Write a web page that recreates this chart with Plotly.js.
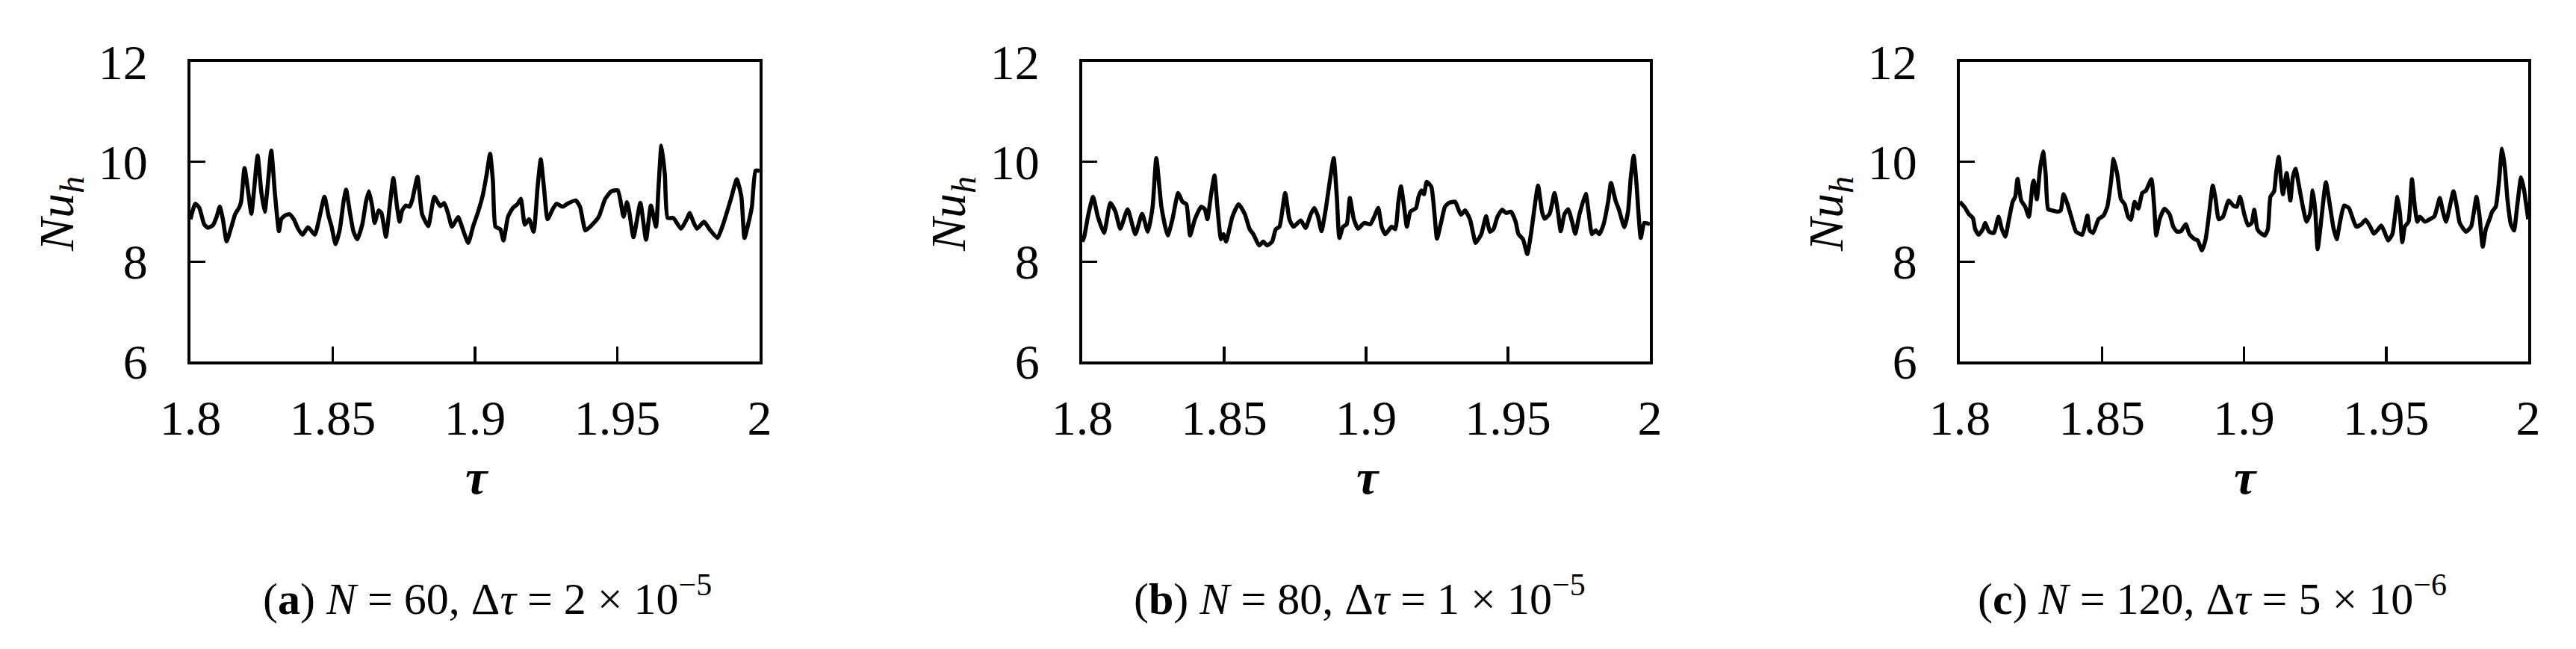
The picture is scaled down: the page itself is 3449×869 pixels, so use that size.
<!DOCTYPE html>
<html><head><meta charset="utf-8">
<script src="https://cdn.plot.ly/plotly-3.0.1.min.js"></script>
<style>html,body{margin:0;padding:0;background:#fff}#chart{width:3449px;height:869px}</style>
</head><body><div id="chart"></div>
<script>
// ---------- data ----------
const tauA=[1.8000,1.8017,1.8031,1.8048,1.8061,1.8079,1.8092,1.8103,1.8114,1.8127,1.8144,1.8157,1.8171,1.8178,1.8190,1.8204,1.8214,1.8223,1.8236,1.8249,1.8261,1.8271,1.8284,1.8297,1.8311,1.8319,1.8332,1.8348,1.8363,1.8379,1.8394,1.8413,1.8437,1.8452,1.8471,1.8486,1.8496,1.8510,1.8525,1.8538,1.8547,1.8560,1.8573,1.8586,1.8604,1.8617,1.8627,1.8639,1.8647,1.8661,1.8671,1.8687,1.8700,1.8713,1.8726,1.8735,1.8744,1.8757,1.8770,1.8780,1.8798,1.8814,1.8836,1.8846,1.8857,1.8878,1.8892,1.8906,1.8919,1.8941,1.8954,1.8976,1.8993,1.9011,1.9028,1.9041,1.9053,1.9063,1.9072,1.9089,1.9100,1.9116,1.9133,1.9149,1.9161,1.9175,1.9190,1.9206,1.9220,1.9231,1.9242,1.9255,1.9273,1.9286,1.9308,1.9325,1.9354,1.9369,1.9388,1.9409,1.9435,1.9457,1.9479,1.9502,1.9522,1.9534,1.9542,1.9557,1.9581,1.9601,1.9618,1.9636,1.9645,1.9655,1.9667,1.9677,1.9697,1.9724,1.9744,1.9754,1.9767,1.9780,1.9805,1.9824,1.9852,1.9872,1.9899,1.9920,1.9936,1.9947,1.9960,1.9973,1.9986,2.0000];
const nuA=[8.85,9.16,9.08,8.75,8.68,8.73,8.90,9.10,8.85,8.41,8.70,8.95,9.08,9.20,9.875,9.35,8.96,9.40,10.125,9.40,9.00,9.50,10.225,9.35,8.61,8.85,8.925,8.95,8.85,8.65,8.54,8.69,8.54,8.85,9.30,8.90,8.70,8.35,8.65,9.20,9.44,9.00,8.60,8.45,8.75,9.20,9.41,9.10,8.775,9.025,8.975,8.50,9.10,9.675,9.10,8.80,9.025,9.125,9.10,9.25,9.70,8.95,8.71,9.00,9.30,9.11,9.175,8.95,8.70,8.89,8.70,8.375,8.70,9.00,9.35,9.75,10.16,9.60,8.70,8.65,8.425,8.90,9.075,9.15,9.26,8.74,8.85,8.60,9.50,10.05,9.50,8.85,9.05,9.16,9.10,9.16,9.225,9.10,8.625,8.725,8.90,9.25,9.41,9.425,8.90,9.19,9.00,8.49,9.175,8.44,9.125,8.70,9.50,10.325,9.75,8.875,8.875,8.66,8.85,8.975,8.80,8.66,8.80,8.65,8.475,8.75,9.25,9.65,9.30,8.475,8.75,9.10,9.825,9.82];

const tauB=[1.8000,1.8007,1.8020,1.8038,1.8055,1.8077,1.8099,1.8117,1.8134,1.8160,1.8187,1.8211,1.8231,1.8248,1.8261,1.8279,1.8301,1.8318,1.8338,1.8353,1.8367,1.8380,1.8397,1.8419,1.8432,1.8441,1.8454,1.8466,1.8476,1.8489,1.8498,1.8507,1.8529,1.8551,1.8573,1.8590,1.8603,1.8623,1.8638,1.8651,1.8669,1.8682,1.8695,1.8715,1.8730,1.8744,1.8770,1.8787,1.8805,1.8818,1.8831,1.8843,1.8858,1.8872,1.8886,1.8897,1.8906,1.8919,1.8932,1.8943,1.8957,1.8972,1.8993,1.9015,1.9029,1.9043,1.9055,1.9068,1.9090,1.9103,1.9114,1.9123,1.9134,1.9144,1.9156,1.9176,1.9185,1.9195,1.9204,1.9214,1.9230,1.9242,1.9250,1.9265,1.9278,1.9292,1.9314,1.9327,1.9335,1.9349,1.9366,1.9378,1.9386,1.9406,1.9423,1.9436,1.9449,1.9463,1.9480,1.9493,1.9511,1.9527,1.9537,1.9553,1.9568,1.9581,1.9594,1.9606,1.9620,1.9629,1.9647,1.9664,1.9676,1.9686,1.9699,1.9712,1.9726,1.9737,1.9752,1.9774,1.9784,1.9796,1.9809,1.9822,1.9837,1.9853,1.9863,1.9879,1.9892,1.9910,1.9923,1.9933,1.9943,1.9953,1.9968,1.9980,2.0000];
const nuB=[8.40,8.50,8.90,9.30,8.90,8.575,9.175,9.00,8.66,9.05,8.55,8.96,8.60,9.10,10.075,9.10,8.525,8.85,9.375,9.20,9.15,8.525,8.85,9.10,9.05,8.85,9.35,9.725,9.10,8.45,8.55,8.40,8.90,9.15,8.95,8.65,8.55,8.325,8.40,8.325,8.40,8.65,8.70,9.375,8.85,8.70,8.825,8.675,8.95,9.075,8.90,8.61,9.05,9.60,10.075,9.30,8.475,8.70,8.75,9.275,8.85,8.66,8.775,8.75,8.90,9.075,8.70,8.55,8.70,8.65,9.20,9.51,9.10,8.70,9.00,9.075,9.30,9.425,9.35,9.60,9.50,8.90,8.46,8.80,9.10,9.175,9.20,9.025,8.94,9.025,8.85,8.55,8.375,8.55,8.91,8.60,8.65,8.90,9.04,8.975,9.00,8.80,8.55,8.45,8.15,8.55,9.10,9.525,9.00,8.86,8.96,9.375,9.00,8.61,8.95,9.05,8.80,8.56,8.95,9.36,9.00,8.55,8.625,8.55,8.75,9.20,9.575,9.225,9.025,8.69,9.00,9.70,10.125,9.55,8.475,8.775,8.75];

const tauC=[1.8000,1.8019,1.8032,1.8046,1.8054,1.8066,1.8081,1.8089,1.8103,1.8120,1.8136,1.8148,1.8160,1.8173,1.8186,1.8195,1.8203,1.8216,1.8230,1.8243,1.8256,1.8260,1.8271,1.8282,1.8293,1.8302,1.8311,1.8326,1.8344,1.8355,1.8365,1.8379,1.8392,1.8409,1.8431,1.8449,1.8457,1.8469,1.8488,1.8506,1.8519,1.8532,1.8541,1.8554,1.8567,1.8580,1.8592,1.8602,1.8615,1.8628,1.8642,1.8655,1.8674,1.8684,1.8691,1.8703,1.8720,1.8738,1.8751,1.8764,1.8778,1.8795,1.8808,1.8826,1.8837,1.8852,1.8865,1.8878,1.8890,1.8900,1.8911,1.8926,1.8946,1.8962,1.8975,1.8986,1.9001,1.9014,1.9027,1.9036,1.9047,1.9058,1.9073,1.9084,1.9093,1.9106,1.9113,1.9122,1.9130,1.9137,1.9150,1.9163,1.9172,1.9181,1.9194,1.9207,1.9220,1.9232,1.9242,1.9251,1.9259,1.9273,1.9288,1.9303,1.9314,1.9326,1.9338,1.9352,1.9369,1.9382,1.9395,1.9413,1.9428,1.9444,1.9457,1.9472,1.9483,1.9494,1.9507,1.9522,1.9531,1.9540,1.9549,1.9557,1.9566,1.9579,1.9591,1.9601,1.9610,1.9619,1.9636,1.9654,1.9670,1.9680,1.9689,1.9700,1.9711,1.9724,1.9737,1.9749,1.9759,1.9781,1.9799,1.9809,1.9818,1.9829,1.9840,1.9851,1.9864,1.9873,1.9886,1.9897,1.9908,1.9918,1.9927,1.9939,1.9950,1.9962,1.9975,1.9985,2.0000];
const nuC=[9.20,9.075,8.95,8.875,8.65,8.54,8.65,8.775,8.60,8.575,8.90,8.65,8.50,8.85,9.20,9.30,9.66,9.225,9.10,8.90,9.55,9.625,9.25,9.85,10.21,9.75,9.05,9.025,9.00,9.025,9.35,9.15,8.90,8.60,8.54,8.925,8.625,8.575,8.85,8.925,9.10,9.60,10.06,9.75,9.25,9.15,8.90,8.84,9.20,9.06,9.375,9.425,9.65,9.10,8.525,8.85,9.06,8.95,8.70,8.60,8.61,8.75,8.55,8.45,8.425,8.225,8.45,9.00,9.525,9.25,8.85,8.90,9.225,9.125,9.10,9.30,8.95,8.725,8.775,9.04,8.65,8.575,8.525,8.65,9.30,9.41,9.775,10.10,9.65,9.35,9.775,9.225,9.70,9.86,9.50,9.10,8.80,8.95,9.425,9.00,8.25,8.90,9.59,9.10,8.70,8.45,8.80,9.125,9.075,8.875,8.70,8.75,8.84,8.70,8.56,8.65,8.725,8.60,8.425,8.55,8.90,9.30,8.95,8.39,8.70,8.80,9.65,9.10,8.80,8.90,8.80,8.85,8.91,9.10,9.275,9.00,8.80,9.10,9.41,9.10,8.775,8.60,8.70,9.00,9.30,8.90,8.30,8.65,8.85,9.00,9.10,9.60,10.26,9.875,9.25,8.75,8.625,9.15,9.69,9.45,8.85];

const xTickVals=[1.8,1.85,1.9,1.95,2];
const xTickText=['1.8','1.85','1.9','1.95','2'];
const yTickVals=[6,8,10,12];
const yTickText=['6','8','10','12'];
const captions=[
  '(<b>a</b>) <i>N</i> = 60, Δ<i>τ</i> = 2 × 10<sup>−5</sup>',
  '(<b>b</b>) <i>N</i> = 80, Δ<i>τ</i> = 1 × 10<sup>−5</sup>',
  '(<b>c</b>) <i>N</i> = 120, Δ<i>τ</i> = 5 × 10<sup>−6</sup>'
];
const yTitle='<i>Nu</i><sub><i>h</i></sub>';
const xTitle='<b><i>τ</i></b>';

// ---------- layout ----------
const W=3449,H=869;
const FONT='Liberation Serif, Times New Roman, serif';
const xDomains=[[255/W,1017/W],[1449/W,2209/W],[2624/W,3385/W]];
const yDomain=[(H-484)/H,(H-83)/H];
const series=[[tauA,nuA],[tauB,nuB],[tauC,nuC]];

const traces=series.map((s,i)=>({
  x:s[0], y:s[1], type:'scatter', mode:'lines',
  xaxis:i?'x'+(i+1):'x', yaxis:i?'y'+(i+1):'y',
  line:{color:'#000',width:5.5,shape:'spline',smoothing:0.5},
  showlegend:false, hoverinfo:'skip'
}));

const layout={
  width:W,height:H,margin:{l:0,r:0,t:0,b:0},
  paper_bgcolor:'#fff',plot_bgcolor:'#fff',showlegend:false,
  font:{family:FONT,color:'#000'},
  annotations:[]
};
const tickFont={family:FONT,size:66,color:'#000'};
xDomains.forEach((d,i)=>{
  const sx=i?String(i+1):'';
  layout['xaxis'+sx]={domain:d,anchor:'y'+sx,range:[1.8,2],tickmode:'array',tickvals:xTickVals,ticktext:xTickText,
    ticks:'inside',ticklen:20,tickwidth:3.5,tickcolor:'#000',showline:true,linewidth:4,linecolor:'#000',mirror:true,
    showgrid:false,zeroline:false,tickfont:tickFont,ticklabelstandoff:15,fixedrange:true};
  layout['yaxis'+sx]={domain:yDomain,anchor:'x'+sx,range:[6,12],tickmode:'array',tickvals:yTickVals,ticktext:yTickText,
    ticks:'inside',ticklen:20,tickwidth:3.5,tickcolor:'#000',showline:true,linewidth:4,linecolor:'#000',mirror:true,
    showgrid:false,zeroline:false,tickfont:tickFont,ticklabelstandoff:40,fixedrange:true};
  const left=d[0]*W, right=d[1]*W, mid=(left+right)/2;
  layout.annotations.push({text:yTitle,xref:'paper',yref:'paper',x:(left-175)/W,y:(H-287)/H,
    xanchor:'center',yanchor:'middle',textangle:-90,showarrow:false,font:{family:FONT,size:66,color:'#000'}});
  layout.annotations.push({text:xTitle,xref:'paper',yref:'paper',x:(mid+2)/W,y:(H-638)/H,
    xanchor:'center',yanchor:'middle',showarrow:false,font:{family:FONT,size:66,color:'#000'}});
});
const capX=[652,1820,2962];
captions.forEach((c,i)=>{
  layout.annotations.push({text:c,xref:'paper',yref:'paper',x:capX[i]/W,y:(H-797)/H,
    xanchor:'center',yanchor:'middle',showarrow:false,font:{family:FONT,size:60,color:'#000'}});
});

Plotly.newPlot('chart',traces,layout,{staticPlot:true,displayModeBar:false});
</script>
</body></html>
